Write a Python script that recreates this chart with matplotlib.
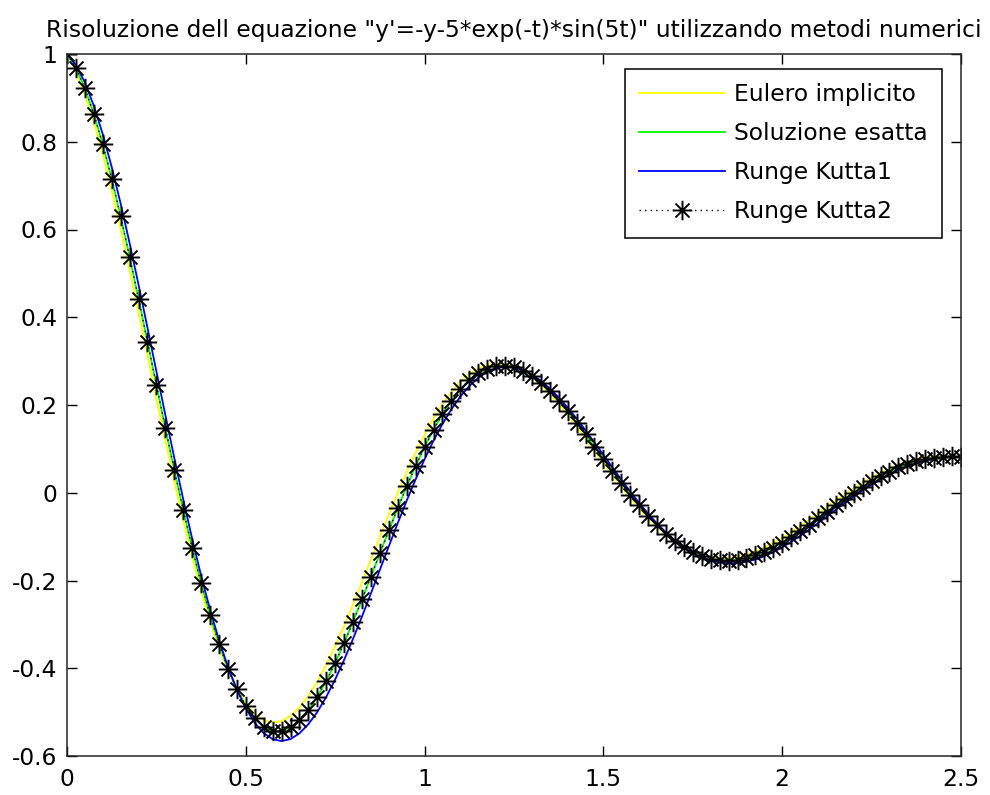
import matplotlib
matplotlib.use("Agg")
import matplotlib.pyplot as plt
from matplotlib.path import Path

plt.rcParams['font.family'] = ['DejaVu Sans']

title = "Risoluzione dell equazione \"y'=-y-5*exp(-t)*sin(5t)\" utilizzando metodi numerici"
labels = ["Eulero implicito", "Soluzione esatta", "Runge Kutta1", "Runge Kutta2"]

t = [0.000, 0.025, 0.050, 0.075, 0.100, 0.125, 0.150, 0.175, 0.200, 0.225,
     0.250, 0.275, 0.300, 0.325, 0.350, 0.375, 0.400, 0.425, 0.450, 0.475,
     0.500, 0.525, 0.550, 0.575, 0.600, 0.625, 0.650, 0.675, 0.700, 0.725,
     0.750, 0.775, 0.800, 0.825, 0.850, 0.875, 0.900, 0.925, 0.950, 0.975,
     1.000, 1.025, 1.050, 1.075, 1.100, 1.125, 1.150, 1.175, 1.200, 1.225,
     1.250, 1.275, 1.300, 1.325, 1.350, 1.375, 1.400, 1.425, 1.450, 1.475,
     1.500, 1.525, 1.550, 1.575, 1.600, 1.625, 1.650, 1.675, 1.700, 1.725,
     1.750, 1.775, 1.800, 1.825, 1.850, 1.875, 1.900, 1.925, 1.950, 1.975,
     2.000, 2.025, 2.050, 2.075, 2.100, 2.125, 2.150, 2.175, 2.200, 2.225,
     2.250, 2.275, 2.300, 2.325, 2.350, 2.375, 2.400, 2.425, 2.450, 2.475,
     2.500]

eulero_implicito = [
    1.0000, 0.9606, 0.9083, 0.8445, 0.7708, 0.6889, 0.6003, 0.5070, 0.4104, 0.3124,
    0.2146, 0.1184, 0.0253, -0.0634, -0.1465, -0.2229, -0.2918, -0.3525, -0.4044, -0.4471,
    -0.4804, -0.5043, -0.5187, -0.5241, -0.5207, -0.5090, -0.4896, -0.4632, -0.4305, -0.3925,
    -0.3499, -0.3037, -0.2547, -0.2039, -0.1523, -0.1005, -0.0496, -0.0001, 0.0470, 0.0913,
    0.1321, 0.1690, 0.2015, 0.2294, 0.2524, 0.2704, 0.2834, 0.2914, 0.2945, 0.2930,
    0.2869, 0.2767, 0.2628, 0.2455, 0.2252, 0.2025, 0.1777, 0.1515, 0.1242, 0.0963,
    0.0684, 0.0409, 0.0141, -0.0115, -0.0356, -0.0579, -0.0781, -0.0960, -0.1114, -0.1243,
    -0.1345, -0.1420, -0.1468, -0.1490, -0.1487, -0.1460, -0.1410, -0.1340, -0.1252, -0.1147,
    -0.1029, -0.0900, -0.0763, -0.0619, -0.0473, -0.0325, -0.0179, -0.0037, 0.0099, 0.0227,
    0.0346, 0.0454, 0.0550, 0.0633, 0.0702, 0.0757, 0.0798, 0.0825, 0.0837, 0.0836,
    0.0822]

soluzione_esatta = [
    1.0000, 0.9677, 0.9217, 0.8633, 0.7941, 0.7157, 0.6298, 0.5381, 0.4424, 0.3443,
    0.2456, 0.1478, 0.0524, -0.0391, -0.1256, -0.2059, -0.2790, -0.3441, -0.4005, -0.4479,
    -0.4859, -0.5144, -0.5333, -0.5428, -0.5433, -0.5352, -0.5190, -0.4954, -0.4650, -0.4288,
    -0.3876, -0.3423, -0.2937, -0.2429, -0.1907, -0.1380, -0.0857, -0.0346, 0.0145, 0.0611,
    0.1044, 0.1439, 0.1792, 0.2100, 0.2359, 0.2568, 0.2727, 0.2834, 0.2892, 0.2901,
    0.2863, 0.2783, 0.2662, 0.2504, 0.2315, 0.2098, 0.1859, 0.1602, 0.1332, 0.1054,
    0.0773, 0.0494, 0.0220, -0.0044, -0.0294, -0.0527, -0.0741, -0.0932, -0.1100, -0.1242,
    -0.1357, -0.1445, -0.1506, -0.1540, -0.1548, -0.1532, -0.1491, -0.1430, -0.1348, -0.1249,
    -0.1136, -0.1009, -0.0873, -0.0730, -0.0582, -0.0433, -0.0283, -0.0137, 0.0005, 0.0139,
    0.0265, 0.0381, 0.0485, 0.0576, 0.0653, 0.0717, 0.0766, 0.0800, 0.0820, 0.0826,
    0.0819]

runge_kutta1 = [
    1.0000, 0.9748, 0.9350, 0.8820, 0.8173, 0.7425, 0.6592, 0.5692, 0.4743, 0.3762,
    0.2766, 0.1772, 0.0795, -0.0149, -0.1048, -0.1889, -0.2661, -0.3356, -0.3967, -0.4488,
    -0.4915, -0.5245, -0.5478, -0.5616, -0.5660, -0.5614, -0.5484, -0.5275, -0.4995, -0.4652,
    -0.4253, -0.3808, -0.3327, -0.2818, -0.2291, -0.1755, -0.1219, -0.0691, -0.0180, 0.0308,
    0.0766, 0.1188, 0.1569, 0.1905, 0.2194, 0.2432, 0.2619, 0.2755, 0.2838, 0.2872,
    0.2858, 0.2798, 0.2695, 0.2554, 0.2378, 0.2172, 0.1941, 0.1690, 0.1423, 0.1145,
    0.0863, 0.0579, 0.0299, 0.0028, -0.0232, -0.0476, -0.0701, -0.0905, -0.1085, -0.1241,
    -0.1369, -0.1470, -0.1544, -0.1591, -0.1610, -0.1604, -0.1573, -0.1519, -0.1445, -0.1351,
    -0.1242, -0.1119, -0.0984, -0.0841, -0.0692, -0.0540, -0.0387, -0.0236, -0.0089, 0.0052,
    0.0184, 0.0307, 0.0419, 0.0518, 0.0604, 0.0676, 0.0733, 0.0775, 0.0803, 0.0816,
    0.0816]

runge_kutta2 = [
    1.000, 0.968, 0.922, 0.863, 0.794, 0.716, 0.630, 0.538, 0.442, 0.344,
    0.246, 0.148, 0.052, -0.039, -0.126, -0.206, -0.279, -0.344, -0.401, -0.448,
    -0.486, -0.514, -0.533, -0.543, -0.543, -0.535, -0.519, -0.495, -0.465, -0.429,
    -0.388, -0.342, -0.294, -0.243, -0.191, -0.138, -0.086, -0.035, 0.015, 0.061,
    0.104, 0.144, 0.179, 0.210, 0.236, 0.257, 0.273, 0.283, 0.289, 0.290,
    0.286, 0.278, 0.266, 0.250, 0.232, 0.210, 0.186, 0.160, 0.133, 0.105,
    0.077, 0.049, 0.022, -0.004, -0.029, -0.053, -0.074, -0.093, -0.110, -0.124,
    -0.136, -0.145, -0.151, -0.154, -0.155, -0.153, -0.149, -0.143, -0.135, -0.125,
    -0.114, -0.101, -0.087, -0.073, -0.058, -0.043, -0.028, -0.014, 0.000, 0.014,
    0.027, 0.038, 0.048, 0.058, 0.065, 0.072, 0.077, 0.080, 0.082, 0.083,
    0.082]

xticks = [0, 0.5, 1, 1.5, 2, 2.5]
xticklabels = ["0", "0.5", "1", "1.5", "2", "2.5"]
yticks = [-0.6, -0.4, -0.2, 0, 0.2, 0.4, 0.6, 0.8, 1]
yticklabels = ["-0.6", "-0.4", "-0.2", "0", "0.2", "0.4", "0.6", "0.8", "1"]

# MATLAB-style asterisk marker (plus + cross)
d = 0.72
ast = Path([(-1, 0), (1, 0), (0, -1), (0, 1), (-d, -d), (d, d), (-d, d), (d, -d)],
           [Path.MOVETO, Path.LINETO] * 4)

fig = plt.figure(figsize=(9.9, 7.95), dpi=100)
ax = fig.add_axes([67/990, 1 - 756/795, (961-67)/990, (756-54)/795])

fs = 16.8
ax.plot(t, eulero_implicito, color=(1, 1, 0), lw=1.3, label=labels[0])
ax.plot(t, soluzione_esatta, color=(0, 1, 0), lw=1.3, label=labels[1])
ax.plot(t, runge_kutta1, color=(0, 0, 1), lw=1.3, label=labels[2])
ax.plot(t, runge_kutta2, color='k', lw=1.0, ls=(0, (1, 3)), marker=ast, ms=14,
        mew=1.4, mec='k', mfc='k', label=labels[3])

ax.set_xlim(0, 2.5)
ax.set_ylim(-0.6, 1)
ax.set_xticks(xticks)
ax.set_xticklabels(xticklabels)
ax.set_yticks(yticks)
ax.set_yticklabels(yticklabels)
ax.tick_params(direction='in', length=7, width=1, top=True, right=True,
               labelsize=fs, colors='k')
ax.tick_params(axis='x', pad=9)
ax.tick_params(axis='y', pad=7)
for s in ax.spines.values():
    s.set_linewidth(1.1)
    s.set_color('#262626')

ax.set_title(title, fontsize=fs, pad=12)

leg = ax.legend(loc='upper right', bbox_to_anchor=(0.9787, 0.9786), borderaxespad=0,
                fontsize=fs, handlelength=3.7, handletextpad=0.36, labelspacing=0.68,
                borderpad=0.62, fancybox=False, framealpha=1, edgecolor='k')
leg.get_frame().set_linewidth(1.1)

fig.savefig("out.png", dpi=100, facecolor='white')
